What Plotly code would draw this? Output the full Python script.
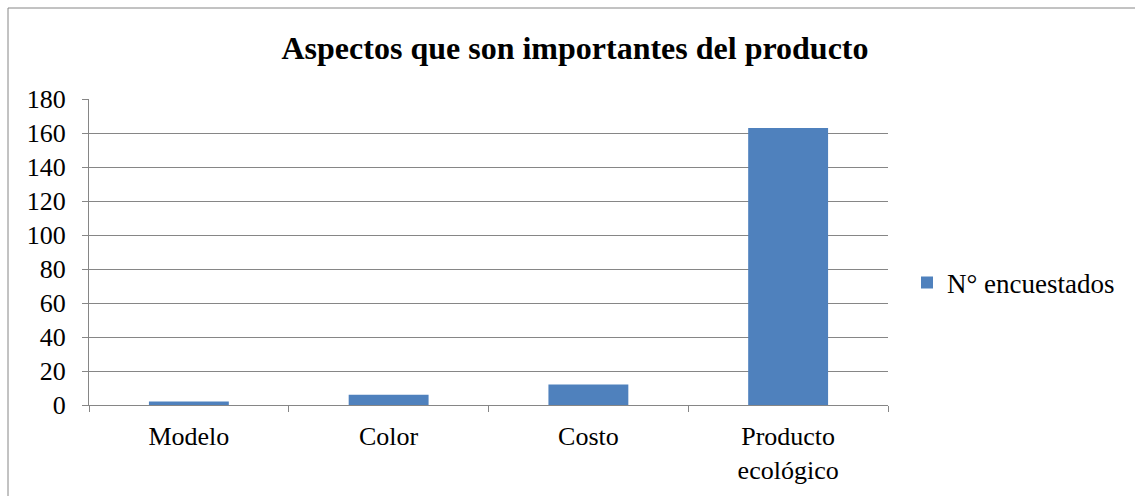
import plotly.graph_objects as go

categories = ["Modelo", "Color", "Costo", "Producto<br>ecológico"]
values = [2, 6, 12, 163]
series_name = "N° encuestados"
title_text = "Aspectos que son importantes del producto"

L, R, T, B = 89, 888, 99, 405
W, H = 1135, 496

def px_x(p):
    return (p - L) / (R - L)

def px_y(p):
    return (B - p) / (B - T)

fig = go.Figure()
fig.add_trace(go.Bar(x=categories, y=values, name=series_name,
                     marker=dict(color="#4F81BD", line=dict(width=0)),
                     showlegend=True))

font = "Liberation Serif, Times New Roman, serif"
fig.update_layout(
    width=W, height=H,
    margin=dict(l=L, r=W - R, t=T, b=H - B),
    paper_bgcolor="white", plot_bgcolor="white",
    font=dict(family=font, size=26, color="black"),
    bargap=0.6,
    title=dict(text="<b>" + title_text + "</b>", x=px_x(575), xref="paper", xanchor="center",
               y=1 - 48 / H, yanchor="middle", font=dict(size=32, family=font)),
    showlegend=True,
    legend=dict(x=px_x(907), y=px_y(283), xanchor="left", yanchor="middle",
                font=dict(size=27, family=font), itemwidth=30, bgcolor="rgba(0,0,0,0)"),
    xaxis=dict(showgrid=False, showline=True, linecolor="#868686", linewidth=1,
               ticks="outside", tickson="boundaries", ticklen=6, tickcolor="#868686",
               tickfont=dict(size=26, family=font), zeroline=False, ticklabelstandoff=8),
    yaxis=dict(range=[0, 180], dtick=20, showgrid=True, gridcolor="#868686", gridwidth=1,
               showline=True, linecolor="#868686", linewidth=1, ticks="outside", ticklen=6,
               tickcolor="#868686", tickfont=dict(size=26, family=font), zeroline=False,
               ticklabelstandoff=11),
)
fig.add_shape(type="rect", xref="paper", yref="paper",
              x0=px_x(8), x1=px_x(1145), y0=px_y(510), y1=px_y(8),
              line=dict(color="#868686", width=1), layer="below")
fig.write_html("out.html")
